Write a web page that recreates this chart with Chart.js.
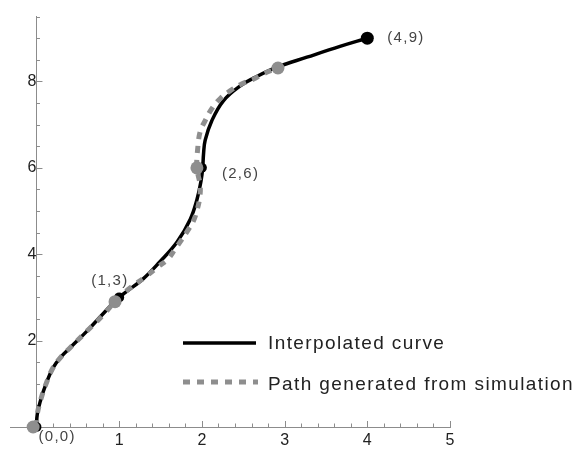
<!DOCTYPE html>
<html>
<head>
<meta charset="utf-8">
<script src="https://cdn.jsdelivr.net/npm/chart.js@4"></script>
<style>
  html, body { margin: 0; background: #fff; }
  #wrap { position: relative; width: 585px; height: 450px; }
</style>
</head>
<body>
<div id="wrap"><canvas id="c"></canvas></div>
<script>
// Interpolated curve vs simulated path.

// solid black curve through the knots
const curveX = [0, 0.01, 0.05, 0.11, 0.20, 0.30, 0.41, 0.61, 0.80, 1.00, 1.29, 1.49, 1.70, 1.86,
  1.94, 1.99, 2.01, 2.02, 2.04, 2.12, 2.26, 2.46, 2.67, 2.91, 3.27, 3.67, 4.00];
const curveY = [0, 0.30, 0.62, 0.97, 1.37, 1.63, 1.84, 2.22, 2.61, 3.00, 3.43, 3.82, 4.28, 4.81,
  5.26, 5.70, 6.00, 6.32, 6.64, 7.09, 7.55, 7.89, 8.12, 8.33, 8.56, 8.81, 9.00];

// dotted grey simulated path
const simX = [0, 0.01, 0.05, 0.11, 0.20, 0.30, 0.41, 0.61, 0.80, 0.94, 1.12, 1.32, 1.47, 1.59,
  1.67, 1.75, 1.83, 1.90, 1.94, 1.97, 1.98, 1.94, 1.95, 1.98, 2.04, 2.12, 2.22, 2.34, 2.48, 2.62,
  2.76, 2.92];
const simY = [0, 0.30, 0.62, 0.97, 1.37, 1.63, 1.84, 2.22, 2.58, 2.88, 3.20, 3.48, 3.71, 3.89,
  4.10, 4.32, 4.55, 4.78, 5.01, 5.26, 5.58, 6.00, 6.45, 6.84, 7.09, 7.37, 7.60, 7.78, 7.94, 8.05,
  8.19, 8.31];

// knots (black) and simulation samples (grey)
const knotX = [0, 1, 2, 4];
const knotY = [0, 3, 6, 9];
const knotLabels = ["(0,0)", "(1,3)", "(2,6)", "(4,9)"];
const simDotX = [-0.04, 0.95, 1.94, 2.92];
const simDotY = [0, 2.90, 6.00, 8.31];

const seriesNames = ["Interpolated curve", "Path generated from simulation"];

const BLACK = "#000", GREY = "#8e8e8e", AXIS = "#8c8c8c";
const FONT = "'Liberation Sans', Arial, sans-serif";
const pts = (xs, ys) => xs.map((x, i) => ({ x, y: ys[i] }));
const near = (v, s) => Math.abs(v / s - Math.round(v / s)) < 1e-6;

// label offsets (px) from each knot
const labelOffset = [[2, 10], [-28, -17], [20, 6], [20, 0]];

// inward Mathematica-style tick marks
const tickMarks = {
  id: "tickMarks",
  beforeDatasetsDraw(chart) {
    const { ctx, scales: { x, y } } = chart;
    const ax = x.getPixelForValue(0), ay = y.getPixelForValue(0);
    ctx.save();
    ctx.strokeStyle = AXIS;
    ctx.lineWidth = 1;
    ctx.beginPath();
    x.ticks.forEach((t) => {
      if (!near(t.value, 0.2)) return;
      const px = Math.round(x.getPixelForValue(t.value)) + 0.5;
      const len = near(t.value, 1) ? 6 : 3.5;
      ctx.moveTo(px, ay); ctx.lineTo(px, ay - len);
    });
    y.ticks.forEach((t) => {
      if (!near(t.value, 0.5)) return;
      const py = Math.round(y.getPixelForValue(t.value)) + 0.5;
      const len = near(t.value, 2) ? 6 : 3.5;
      ctx.moveTo(ax, py); ctx.lineTo(ax + len, py);
    });
    ctx.stroke();
    ctx.restore();
  },
};

const knotText = {
  id: "knotText",
  afterDatasetsDraw(chart) {
    const { ctx, scales: { x, y } } = chart;
    ctx.save();
    ctx.font = "15px " + FONT;
    ctx.fillStyle = "#444";
    ctx.textBaseline = "middle";
    ctx.letterSpacing = "1.3px";
    knotLabels.forEach((t, i) => {
      const [dx, dy] = labelOffset[i];
      ctx.fillText(t, x.getPixelForValue(knotX[i]) + dx, y.getPixelForValue(knotY[i]) + dy);
    });
    ctx.restore();
  },
};

// legend sits inside the plot, lower right
const insideLegend = {
  id: "insideLegend",
  afterDatasetsDraw(chart) {
    const { ctx } = chart;
    const x0 = 183, x1 = 256, tx = 268, rows = [343, 382];
    ctx.save();
    ctx.lineCap = "butt";
    ctx.strokeStyle = BLACK; ctx.lineWidth = 3.5;
    ctx.beginPath(); ctx.moveTo(x0, rows[0]); ctx.lineTo(x1, rows[0]); ctx.stroke();
    ctx.strokeStyle = GREY; ctx.lineWidth = 5; ctx.setLineDash([7, 7]);
    ctx.beginPath(); ctx.moveTo(x0, rows[1]); ctx.lineTo(x1 + 2, rows[1]); ctx.stroke();
    ctx.setLineDash([]);
    ctx.font = "19px " + FONT;
    ctx.fillStyle = "#222";
    ctx.textBaseline = "alphabetic";
    ctx.letterSpacing = "1.4px";
    ctx.fillText(seriesNames[0], tx, rows[0] + 6);
    ctx.fillText(seriesNames[1], tx, rows[1] + 8);
    ctx.restore();
  },
};

new Chart(document.getElementById("c"), {
  type: "scatter",
  data: {
    datasets: [
      { label: "knots-sim", data: pts(simDotX, simDotY), order: 1,
        pointRadius: 6.5, pointHoverRadius: 6.5, backgroundColor: GREY, borderWidth: 0 },
      { label: "knots", data: pts(knotX, knotY), order: 2,
        pointRadius: [5, 5, 5, 6.5], pointHoverRadius: [5, 5, 5, 6.5],
        backgroundColor: BLACK, borderWidth: 0 },
      { label: seriesNames[1], data: pts(simX, simY), order: 3, showLine: true,
        pointRadius: 0, borderColor: GREY, borderWidth: 5, borderDash: [7, 7],
        borderCapStyle: "butt", tension: 0.4, fill: false },
      { label: seriesNames[0], data: pts(curveX, curveY), order: 4, showLine: true,
        pointRadius: 0, borderColor: BLACK, borderWidth: 3.5, tension: 0.4, fill: false },
    ],
  },
  options: {
    responsive: true,
    maintainAspectRatio: false,
    animation: false,
    clip: false,
    layout: { padding: { left: 10, right: 135, top: 12, bottom: 23 } },
    plugins: { legend: { display: false }, tooltip: { enabled: false } },
    scales: {
      x: {
        type: "linear", min: -0.32, max: 5, position: { y: 0 },
        grid: { display: false, drawTicks: false, tickLength: 0 },
        border: { display: true, color: AXIS, width: 1 },
        ticks: {
          stepSize: 0.2, autoSkip: false, maxRotation: 0, padding: 4,
          color: "#222", font: { family: FONT, size: 16 },
          callback: (v) => (near(v, 1) && v > 0.5 ? String(Math.round(v)) : ""),
        },
      },
      y: {
        type: "linear", min: 0, max: 9.5, position: { x: 0 },
        grid: { display: false, drawTicks: false, tickLength: 0 },
        border: { display: true, color: AXIS, width: 1 },
        ticks: {
          stepSize: 0.5, autoSkip: false, padding: 7,
          color: "#222", font: { family: FONT, size: 16 },
          callback: (v) => (near(v, 2) && v > 0.5 ? String(Math.round(v)) : ""),
        },
      },
    },
  },
  plugins: [tickMarks, knotText, insideLegend],
});
</script>
</body>
</html>
